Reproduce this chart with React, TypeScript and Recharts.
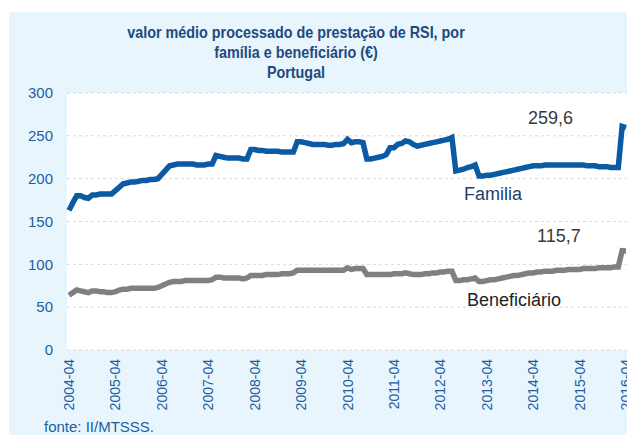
import { LineChart, Line, XAxis, YAxis, CartesianGrid } from 'recharts';

const startYear = 2004;
const yearTicks = ['2004-04', '2005-04', '2006-04', '2007-04', '2008-04', '2009-04', '2010-04', '2011-04', '2012-04', '2013-04', '2014-04', '2015-04', '2016-04'];
const yTicks = [0, 50, 100, 150, 200, 250, 300];

// valor médio por família (€), mensal 2004-04 .. 2016-04
const familia = [
  163, 172, 180, 180, 178, 177, 181, 181, 182, 182, 182, 182,
  186, 190, 194, 195, 196, 196, 197, 198, 198, 199, 199, 200,
  205, 210, 215, 216, 217, 217, 217, 217, 217, 216, 216, 216,
  217, 217, 227, 226, 225, 224, 224, 224, 224, 223, 223, 234,
  234, 233, 233, 232, 232, 232, 232, 231, 231, 231, 231, 243,
  243, 242, 241, 240, 240, 240, 240, 239, 239, 240, 240, 241,
  246, 242, 243, 243, 242, 223, 223, 224, 225, 226, 228, 236,
  236, 240, 241, 244, 243, 240, 238, 239, 240, 241, 242, 243,
  244, 245, 246, 248, 209, 210, 211, 213, 214, 216, 203, 203,
  204, 204, 205, 206, 207, 208, 209, 210, 211, 212, 213, 214,
  215, 215, 215, 216, 216, 216, 216, 216, 216, 216, 216, 216,
  216, 216, 215, 215, 215, 214, 214, 214, 213, 213, 213, 261,
  259.6,
];

// valor médio por beneficiário (€)
const beneficiario = [
  64, 67, 70, 69, 68, 67, 69, 69, 68, 68, 67, 67,
  68, 70, 71, 71, 72, 72, 72, 72, 72, 72, 72, 73,
  75, 77, 79, 80, 80, 80, 81, 81, 81, 81, 81, 81,
  81, 82, 85, 85, 84, 84, 84, 84, 84, 83, 84, 87,
  87, 87, 87, 88, 88, 88, 88, 89, 89, 89, 90, 93,
  93, 93, 93, 93, 93, 93, 93, 93, 93, 93, 93, 93,
  96, 94, 95, 95, 95, 88, 88, 88, 88, 88, 88, 88,
  89, 89, 89, 90, 89, 88, 88, 88, 89, 89, 90, 90,
  91, 91, 92, 92, 81, 81, 82, 82, 83, 84, 80, 80,
  81, 82, 82, 83, 84, 85, 86, 87, 87, 88, 89, 90,
  90, 91, 91, 92, 92, 92, 93, 93, 93, 94, 94, 94,
  94, 95, 95, 95, 95, 96, 96, 96, 96, 97, 97, 116,
  115.7,
];

const months = familia.map((_, i) => {
  const m = 3 + i;
  const y = startYear + Math.floor(m / 12);
  return `${y}-${String((m % 12) + 1).padStart(2, '0')}`;
});

const data = months.map((mes, i) => ({ mes, familia: familia[i], beneficiario: beneficiario[i] }));

const FONT = '"Liberation Sans", Arial, sans-serif';
const BLUE_TXT = '#1d5e9f';

const XTick = (props: any) => {
  const { x, y, payload } = props;
  if (!yearTicks.includes(payload.value)) return null;
  const ty = y + 1;
  return (
    <text
      x={x}
      y={ty}
      transform={`rotate(-90 ${x} ${ty})`}
      textAnchor="end"
      dominantBaseline="central"
      fill={BLUE_TXT}
      fontSize={14}
      fontFamily={FONT}
    >
      {payload.value}
    </text>
  );
};

export default function App() {
  return (
    <div
      style={{
        position: 'relative',
        width: 626,
        height: 423,
        marginLeft: 1,
        marginTop: 4,
        background: '#e8f5fd',
        fontFamily: FONT,
      }}
    >
      <div
        style={{
          position: 'absolute',
          left: 0,
          top: 10,
          width: 574,
          textAlign: 'center',
          color: '#1f4a7e',
          fontWeight: 'bold',
          fontSize: 16.5,
          lineHeight: '20px',
          transform: 'scaleX(0.87)',
          transformOrigin: '50% 0',
        }}
      >
        valor médio processado de prestação de RSI, por
        <br />
        família e beneficiário (€)
        <br />
        Portugal
      </div>
      <LineChart
        width={626}
        height={423}
        data={data}
        style={{ overflow: 'visible' }}
        margin={{ top: 81, right: 7, left: 8, bottom: 25 }}
      >
        <CartesianGrid vertical={false} stroke="#d9d9d9" strokeDasharray="3 3" fill="#ffffff" />
        <XAxis
          dataKey="mes"
          interval={0}
          tick={<XTick />}
          tickLine={false}
          axisLine={false}
          height={60}
          padding={{ left: 2, right: 2 }}
        />
        <YAxis
          domain={[0, 300]}
          ticks={yTicks}
          width={50}
          axisLine={false}
          tickLine={false}
          tickMargin={8}
          tick={{ fill: BLUE_TXT, fontSize: 15, fontFamily: FONT }}
        />
        <Line
          type="linear"
          dataKey="beneficiario"
          stroke="#808080"
          strokeWidth={5.5}
          dot={false}
          isAnimationActive={false}
        />
        <Line
          type="linear"
          dataKey="familia"
          stroke="#0a5ba3"
          strokeWidth={5.5}
          dot={false}
          isAnimationActive={false}
        />
      </LineChart>
      <div style={{ position: 'absolute', left: 519, top: 96, fontSize: 18, color: '#3a3a3a' }}>259,6</div>
      <div style={{ position: 'absolute', left: 528, top: 214, fontSize: 18, color: '#3a3a3a' }}>115,7</div>
      <div style={{ position: 'absolute', left: 455, top: 172, fontSize: 18, color: '#1f3f6a' }}>Familia</div>
      <div style={{ position: 'absolute', left: 458, top: 278, fontSize: 18, color: '#222222' }}>Beneficiário</div>
      <div style={{ position: 'absolute', left: 35, top: 406, fontSize: 15, color: BLUE_TXT }}>fonte: II/MTSSS.</div>
    </div>
  );
}
